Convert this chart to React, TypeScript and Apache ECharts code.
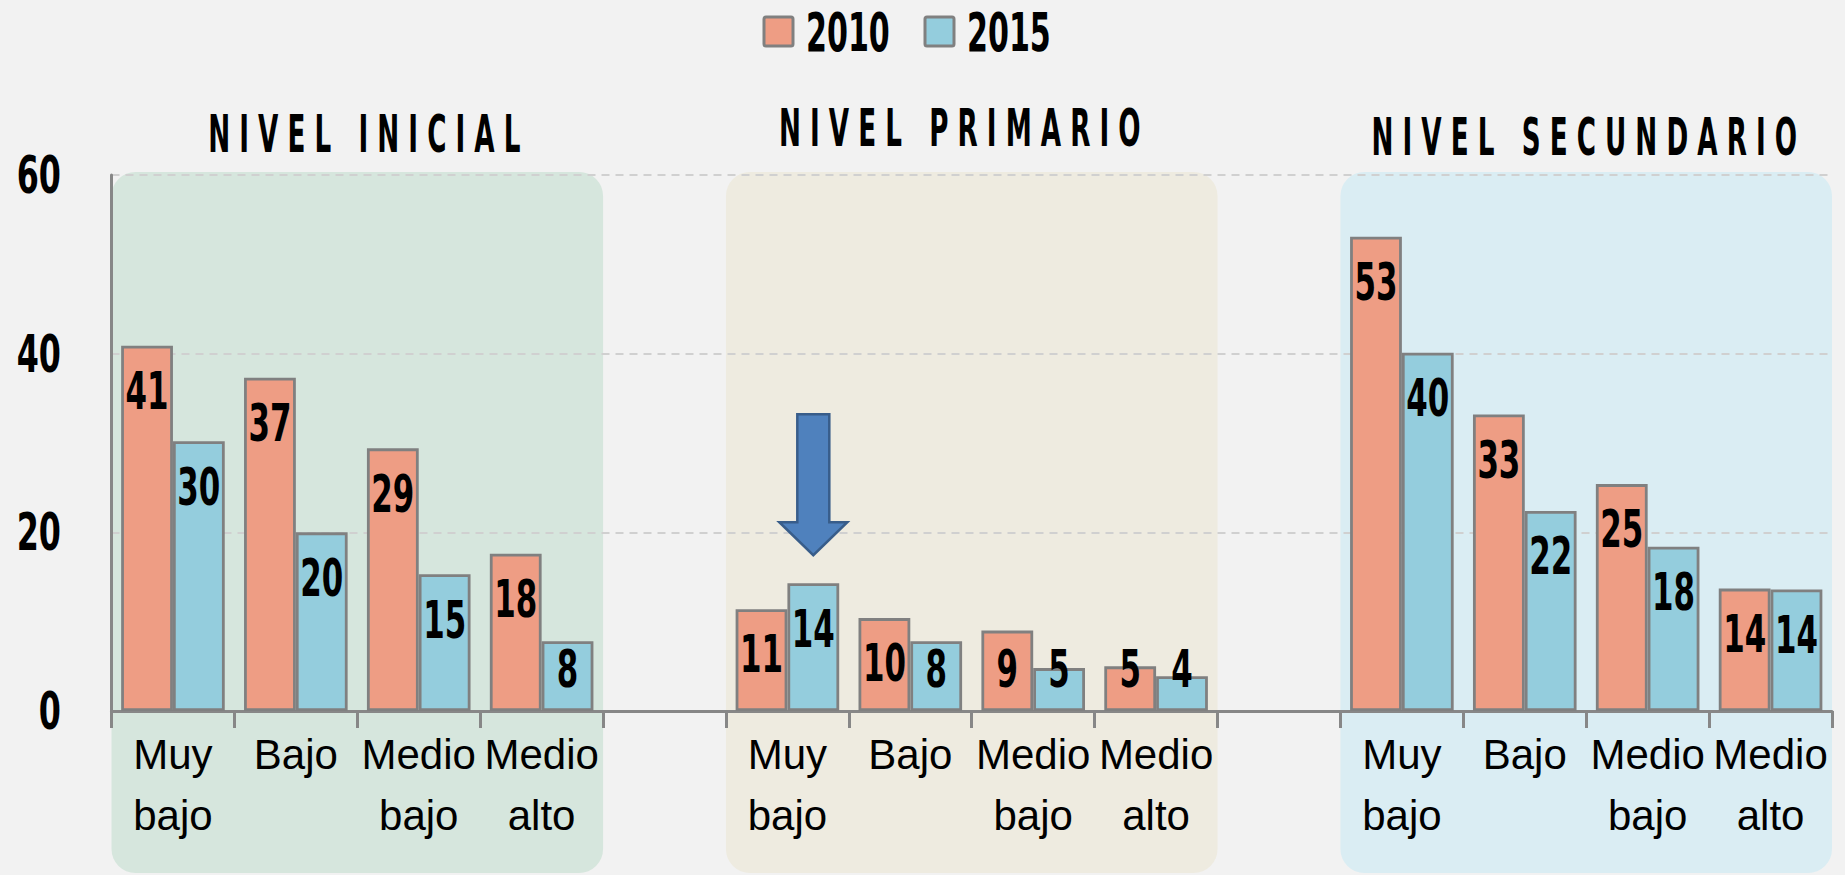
import React, { useEffect, useRef } from "react";
import * as echarts from "echarts";

// ---- data ----
const categories = [
  "Muy\nbajo", "Bajo", "Medio\nbajo", "Medio\nalto", "",
  "Muy\nbajo", "Bajo", "Medio\nbajo", "Medio\nalto", "",
  "Muy\nbajo", "Bajo", "Medio\nbajo", "Medio\nalto",
];
const values2010 = [40.9, 37.3, 29.4, 17.6, null, 11.4, 10.4, 9.0, 5.0, null, 53.1, 33.2, 25.4, 13.7];
const values2015 = [30.2, 20.0, 15.3, 7.8, null, 14.3, 7.8, 4.8, 3.9, null, 40.1, 22.4, 18.4, 13.6];
const seriesNames = ["2010", "2015"];
const groupTitles = ["NIVEL INICIAL", "NIVEL PRIMARIO", "NIVEL SECUNDARIO"];
const groupRanges = [[0, 3], [5, 8], [10, 13]];
const yTicks = [0, 20, 40, 60];
const arrowTarget = { series: 1, index: 5 };

// ---- styles ----
const NARROW = "'DejaVu Sans Condensed', 'DejaVu Sans', sans-serif";
const REGULAR = "'Liberation Sans', Arial, sans-serif";
const panelColors = ["#d6e6dd", "#eeebe0", "#daedf3"];
const titleYs = [134, 128, 137];
const titleDx = [7, -12, -2];
const barColors = ["#ee9d84", "#94cddd"];
const BAR_GAP_RATIO = 0.157;
const LEGEND = { left: 764, top: 17, size: 29, textGap: 13, stride: 161 };

const spaced = (s: string) =>
  s.split(" ").map((w) => w.split("").join(" ")).join("   ");

export default function App() {
  const ref = useRef<HTMLDivElement>(null);
  useEffect(() => {
    document.body.style.margin = "0";
    const el = ref.current!;
    const chart = echarts.init(el, null, { renderer: "svg" });

    const barSeries = (i: number, data: (number | null)[]) => ({
      name: seriesNames[i],
      type: "bar",
      data,
      barGap: "0%",
      barCategoryGap: BAR_GAP_RATIO * 100 + "%",
      itemStyle: { color: barColors[i], borderColor: "#808080", borderWidth: 2.8 },
      z: 3,
    });
    const labelSeries = (i: number, data: (number | null)[]) => ({
      name: seriesNames[i] + " etiquetas",
      type: "custom",
      silent: true,
      z: 6,
      data: data.map((v, k) => [k, v]),
      renderItem: (params: any, api: any) => {
        const v = api.value(1);
        if (v == null || isNaN(v)) return null;
        const idx = api.value(0);
        const catW = api.size([1, 0])[0];
        const barW = (catW * (1 - BAR_GAP_RATIO)) / 2;
        const [cx0, top] = api.coord([idx, v]);
        const base = api.coord([idx, 0])[1];
        const cx = cx0 + (i === 0 ? -barW / 2 : barW / 2);
        const cy = Math.min(top + 45, base - 42);
        return {
          type: "text",
          x: cx,
          y: cy,
          scaleX: 0.66,
          style: {
            text: String(Math.round(v)),
            fontFamily: NARROW,
            fontWeight: "bold",
            fontSize: 52,
            fill: "#000",
            align: "center",
            verticalAlign: "middle",
          },
        };
      },
    });

    chart.setOption({
      animation: false,
      backgroundColor: "#f2f2f2",
      grid: { left: 111.5, right: 13, top: 175, bottom: 164, containLabel: false },
      xAxis: {
        type: "category",
        data: categories,
        axisLine: { lineStyle: { color: "#878787", width: 3 } },
        axisTick: { show: true, length: 17, lineStyle: { color: "#878787", width: 3 } },
        axisLabel: { interval: 0, fontFamily: REGULAR, fontSize: 42, lineHeight: 61, color: "#000", margin: 13 },
      },
      yAxis: {
        type: "value",
        min: yTicks[0],
        max: yTicks[yTicks.length - 1],
        interval: yTicks[1] - yTicks[0],
        axisLine: { show: true, lineStyle: { color: "#878787", width: 3 } },
        axisTick: { show: false },
        axisLabel: { show: false },
        splitLine: { show: true, lineStyle: { color: "#d0d0d0", width: 2, type: [8, 6] } },
      },
      series: [
        barSeries(0, values2010),
        barSeries(1, values2015),
        labelSeries(0, values2010),
        labelSeries(1, values2015),
      ],
    });

    const xAt = (i: number) => chart.convertToPixel({ xAxisIndex: 0 }, i) as number;
    const yAt = (v: number) => chart.convertToPixel({ yAxisIndex: 0 }, v) as number;
    const catW = xAt(1) - xAt(0);
    const barW = (catW * (1 - BAR_GAP_RATIO)) / 2;
    const top = yAt(yTicks[yTicks.length - 1]) - 3;
    const H = el.clientHeight;
    const graphics: any[] = [];

    // panels + titles
    groupRanges.forEach(([a, b], gi) => {
      const x0 = xAt(a) - catW / 2;
      const x1 = xAt(b) + catW / 2;
      graphics.push({
        type: "rect",
        z: -10,
        silent: true,
        shape: { x: x0, y: top, width: x1 - x0, height: H - 2 - top, r: 24 },
        style: { fill: panelColors[gi] },
      });
      graphics.push({
        type: "text",
        x: (x0 + x1) / 2 + titleDx[gi],
        y: titleYs[gi],
        scaleX: 0.56,
        style: {
          text: spaced(groupTitles[gi]),
          fontFamily: NARROW,
          fontWeight: "bold",
          fontSize: 52,
          fill: "#000",
          align: "center",
          verticalAlign: "middle",
        },
      });
    });

    // y-axis tick labels
    yTicks.forEach((t) => {
      graphics.push({
        type: "text",
        x: 61,
        y: yAt(t),
        scaleX: 0.68,
        style: {
          text: String(t),
          fontFamily: NARROW,
          fontWeight: "bold",
          fontSize: 52,
          fill: "#000",
          align: "right",
          verticalAlign: "middle",
        },
      });
    });

    // legend
    seriesNames.forEach((name, i) => {
      const lx = LEGEND.left + i * LEGEND.stride;
      graphics.push({
        type: "rect",
        shape: { x: lx, y: LEGEND.top, width: LEGEND.size, height: LEGEND.size, r: 2 },
        style: { fill: barColors[i], stroke: "#808080", lineWidth: 3 },
      });
      graphics.push({
        type: "text",
        x: lx + LEGEND.size + LEGEND.textGap,
        y: LEGEND.top + LEGEND.size / 2 + 1,
        scaleX: 0.62,
        style: {
          text: name,
          fontFamily: NARROW,
          fontWeight: "bold",
          fontSize: 54,
          fill: "#000",
          align: "left",
          verticalAlign: "middle",
        },
      });
    });

    // arrow over highlighted bar
    const vals = arrowTarget.series === 0 ? values2010 : values2015;
    const cx = xAt(arrowTarget.index) + (arrowTarget.series === 0 ? -barW / 2 : barW / 2);
    const tip = yAt(vals[arrowTarget.index] as number) - 28;
    const headTop = tip - 33;
    const shaftTop = tip - 141;
    graphics.push({
      type: "polygon",
      z: 20,
      shape: {
        points: [
          [cx - 16, shaftTop], [cx + 16, shaftTop], [cx + 16, headTop], [cx + 34, headTop],
          [cx, tip], [cx - 34, headTop], [cx - 16, headTop],
        ],
      },
      style: { fill: "#4f81bd", stroke: "#385d8a", lineWidth: 2.5 },
    });
    chart.setOption({ graphic: graphics });
    return () => chart.dispose();
  }, []);
  return <div ref={ref} style={{ width: "100vw", height: "100vh" }} />;
}
